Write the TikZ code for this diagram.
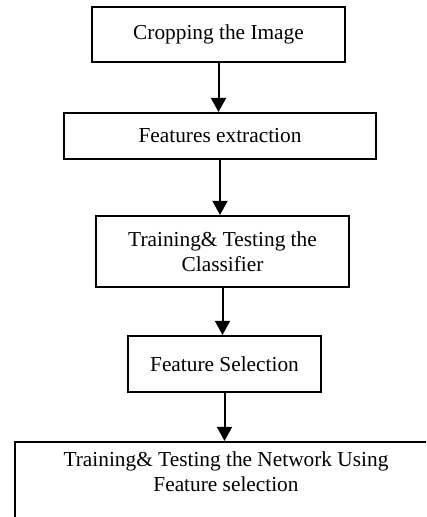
\documentclass[tikz,border=0pt]{standalone}
\usepackage{fontspec}
\setmainfont{Liberation Serif}
\usepackage{tikz}
\usetikzlibrary{arrows.meta}

\begin{document}
\begin{tikzpicture}[x=0.6pt,y=-0.6pt,
  stepbox/.style={draw, line width=1.2pt, inner sep=0pt, align=center,
    font=\fontsize{12.8pt}{15pt}\selectfont},
  flow/.style={line width=1.2pt, -{Triangle[width=9pt,length=8.5pt]}}]
\useasboundingbox (0,0) rectangle (426,517);
\clip (0,0) rectangle (426,517);
\node (crop) [stepbox, minimum width=151.8pt, minimum height=33pt] at (218.5,34.5) {Cropping the Image};
\node (feat) [stepbox, minimum width=187.2pt, minimum height=27.6pt] at (220,136) {Features extraction};
\node (clf) [stepbox, minimum width=151.8pt, minimum height=42.6pt] at (222.5,251.5) {Training\& Testing the\\Classifier};
\node (sel) [stepbox, minimum width=115.8pt, minimum height=33.6pt] at (224.5,364) {Feature Selection};
\node (net) [stepbox, minimum width=253.2pt, minimum height=66pt, anchor=north] at (226,441) {};
\node (nettext) [align=center, anchor=north, inner sep=0pt, font=\fontsize{12.8pt}{15pt}\selectfont] at (226,451) {Training\& Testing the Network Using\\Feature selection};
% arrows
\draw[flow] (crop.south) -- (crop.south |- feat.north);
\draw[flow] (feat.south) -- (feat.south |- clf.north);
\draw[flow] (clf.south) -- (clf.south |- sel.north);
\draw[flow] (sel.south) -- (sel.south |- net.north);
\end{tikzpicture}
\end{document}
